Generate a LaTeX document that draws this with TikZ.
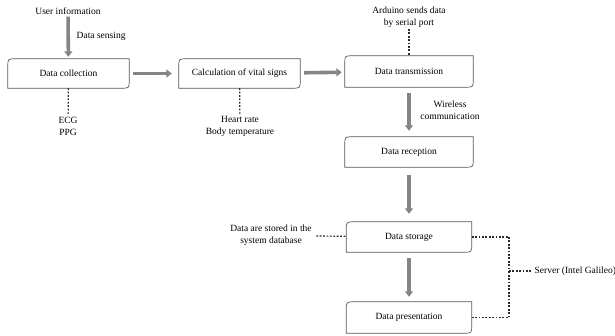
\documentclass[tikz,border=0pt]{standalone}
\usepackage{fontspec}
\setmainfont{Liberation Serif}
\usetikzlibrary{arrows.meta}
\definecolor{boxc}{HTML}{555555}
\definecolor{arrc}{HTML}{858585}
\definecolor{dotc}{HTML}{2A2A2A}
\tikzset{
  stepbox/.style={draw=none, inner sep=0pt, minimum width=#1, minimum height=30pt},
  stepbox/.default=126pt,
  boxline/.style={draw=boxc, line width=0.7pt},
  bigarrow/.style={draw=arrc, line width=3.6pt, -{Triangle[width=8pt,length=5.5pt]}},
  dotline/.style={draw=dotc, line width=1.2pt, dash pattern=on 1.8pt off 1.6pt},
  lbl/.style={inner sep=1.5pt, align=center, font=\fontsize{9.5}{12}\selectfont},
}
\newcommand\cutbox[1]{%
  \draw[boxline] ([yshift=-8pt]#1.north west) .. controls (#1.north west) .. ([xshift=8pt]#1.north west)
    -- (#1.north east) -- ([yshift=8pt]#1.south east) .. controls (#1.south east) .. ([xshift=-8pt]#1.south east)
    -- (#1.south west) -- cycle;}
\begin{document}
\begin{tikzpicture}[x=1pt,y=-1pt,every node/.style={font=\fontsize{9.5}{12}\selectfont}]
\useasboundingbox (0,0) rectangle (615,336);
% boxes
\node[stepbox=121pt, minimum height=29pt] (coll) at (68.5,73.5) {Data collection};
\node[stepbox=121pt, minimum height=29pt] (calc) at (239.5,73.5) {Calculation of vital signs};
\node[stepbox=128pt, minimum height=31pt] (trans) at (409,71.5) {Data transmission};
\node[stepbox=128pt] (recep) at (409,152) {Data reception};
\node[stepbox=125pt] (stor) at (409,237) {Data storage};
\node[stepbox=125pt, minimum height=31pt] (pres) at (409,317.5) {Data presentation};
\cutbox{coll}\cutbox{calc}\cutbox{trans}\cutbox{recep}\cutbox{stor}\cutbox{pres}
% labels
\node[lbl] (ui) at (68,11) {User information};
\node[lbl, anchor=west] (sens) at (75,36) {Data sensing};
\node[lbl] (ecg) at (68,126) {ECG\\PPG};
\node[lbl] (hr) at (240,126) {Heart rate\\Body temperature};
\node[lbl] (ard) at (409,17) {Arduino sends data\\by serial port};
\node[lbl] (wir) at (450,110.5) {Wireless\\communication};
\node[lbl] (stored) at (271,235.5) {Data are stored in the\\system database};
\node[lbl, anchor=west] (srv) at (533,271) {Server (Intel Galileo)};
\coordinate (junc) at (509,271);
% thick arrows
\draw[bigarrow, shorten <=0.5pt, shorten >=2pt] (ui) -- (coll);
\draw[bigarrow, shorten <=4pt, shorten >=7pt] (coll) -- (calc);
\draw[bigarrow, shorten <=4pt, shorten >=3pt] (calc) -- (trans);
\draw[bigarrow, shorten <=6pt, shorten >=6pt] (trans) -- (recep);
\draw[bigarrow, shorten <=8pt, shorten >=8pt] (recep) -- (stor);
\draw[bigarrow, shorten <=6pt, shorten >=5pt] (stor) -- (pres);
% dotted connectors
\draw[dotline] (coll) -- (ecg);
\draw[dotline] (calc) -- (hr);
\draw[dotline] (ard) -- (trans);
\draw[dotline, shorten <=3pt] (stored) -- (stor);
\draw[dotline] (stor.east) -| (junc);
\draw[dotline] (pres.east) -| (junc);
\draw[dotline, shorten >=1pt] (junc) -- (srv);
\end{tikzpicture}
\end{document}
